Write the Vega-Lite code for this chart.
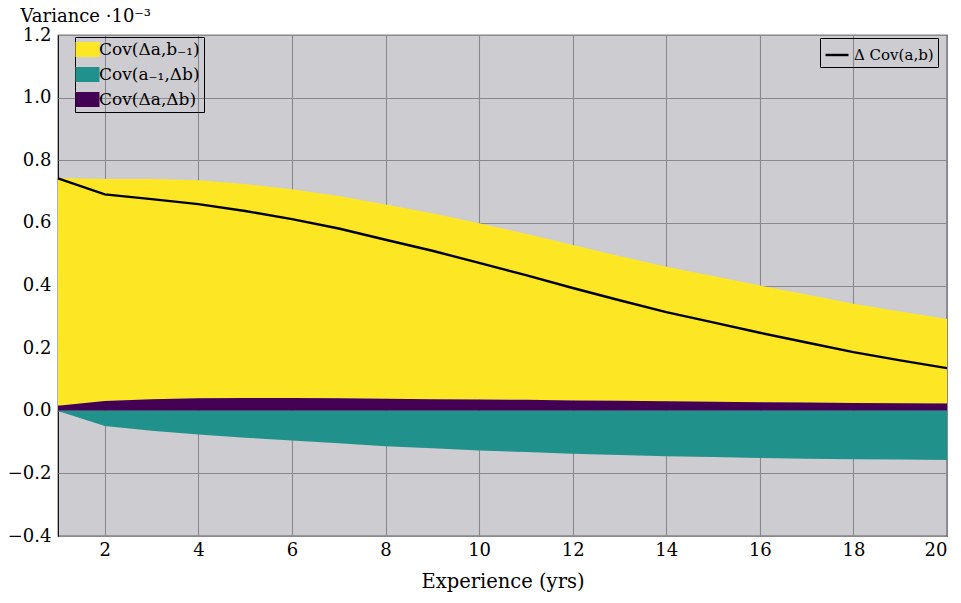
{
  "$schema": "https://vega.github.io/schema/vega-lite/v6.json",
  "autosize": {"type": "none"},
  "width": 889,
  "height": 501,
  "padding": {"left": 58, "top": 35, "right": 14, "bottom": 67},
  "background": "white",
  "config": {
    "font": "DejaVu Serif",
    "view": {"fill": "#cdccd1", "stroke": "black", "strokeWidth": 1.2},
    "axis": {
      "zindex": 1,
      "domain": false,
      "ticks": false,
      "grid": true,
      "gridColor": "#8a8a8e",
      "gridWidth": 1.1,
      "gridOpacity": 1,
      "labelFont": "DejaVu Serif",
      "labelFontSize": 18,
      "labelColor": "black",
      "titleFont": "DejaVu Serif",
      "titleFontSize": 19.5,
      "titleFontWeight": "normal",
      "titleColor": "black"
    },
    "legend": {
      "labelFont": "DejaVu Serif",
      "labelColor": "black",
      "strokeColor": "black",
      "strokeWidth": 1
    }
  },
  "datasets": {
    "components": [
      {"x": 1, "series": "Cov(Δa,b₋₁)", "k": 2, "v": 0.727},
      {"x": 2, "series": "Cov(Δa,b₋₁)", "k": 2, "v": 0.709},
      {"x": 3, "series": "Cov(Δa,b₋₁)", "k": 2, "v": 0.703},
      {"x": 4, "series": "Cov(Δa,b₋₁)", "k": 2, "v": 0.696},
      {"x": 5, "series": "Cov(Δa,b₋₁)", "k": 2, "v": 0.683},
      {"x": 6, "series": "Cov(Δa,b₋₁)", "k": 2, "v": 0.666},
      {"x": 7, "series": "Cov(Δa,b₋₁)", "k": 2, "v": 0.646},
      {"x": 8, "series": "Cov(Δa,b₋₁)", "k": 2, "v": 0.621},
      {"x": 9, "series": "Cov(Δa,b₋₁)", "k": 2, "v": 0.594},
      {"x": 10, "series": "Cov(Δa,b₋₁)", "k": 2, "v": 0.563},
      {"x": 11, "series": "Cov(Δa,b₋₁)", "k": 2, "v": 0.530},
      {"x": 12, "series": "Cov(Δa,b₋₁)", "k": 2, "v": 0.496},
      {"x": 13, "series": "Cov(Δa,b₋₁)", "k": 2, "v": 0.462},
      {"x": 14, "series": "Cov(Δa,b₋₁)", "k": 2, "v": 0.430},
      {"x": 15, "series": "Cov(Δa,b₋₁)", "k": 2, "v": 0.401},
      {"x": 16, "series": "Cov(Δa,b₋₁)", "k": 2, "v": 0.373},
      {"x": 17, "series": "Cov(Δa,b₋₁)", "k": 2, "v": 0.345},
      {"x": 18, "series": "Cov(Δa,b₋₁)", "k": 2, "v": 0.317},
      {"x": 19, "series": "Cov(Δa,b₋₁)", "k": 2, "v": 0.293},
      {"x": 20, "series": "Cov(Δa,b₋₁)", "k": 2, "v": 0.270},

      {"x": 1, "series": "Cov(Δa,Δb)", "k": 1, "v": 0.016},
      {"x": 2, "series": "Cov(Δa,Δb)", "k": 1, "v": 0.031},
      {"x": 3, "series": "Cov(Δa,Δb)", "k": 1, "v": 0.037},
      {"x": 4, "series": "Cov(Δa,Δb)", "k": 1, "v": 0.040},
      {"x": 5, "series": "Cov(Δa,Δb)", "k": 1, "v": 0.041},
      {"x": 6, "series": "Cov(Δa,Δb)", "k": 1, "v": 0.041},
      {"x": 7, "series": "Cov(Δa,Δb)", "k": 1, "v": 0.040},
      {"x": 8, "series": "Cov(Δa,Δb)", "k": 1, "v": 0.038},
      {"x": 9, "series": "Cov(Δa,Δb)", "k": 1, "v": 0.037},
      {"x": 10, "series": "Cov(Δa,Δb)", "k": 1, "v": 0.036},
      {"x": 11, "series": "Cov(Δa,Δb)", "k": 1, "v": 0.035},
      {"x": 12, "series": "Cov(Δa,Δb)", "k": 1, "v": 0.033},
      {"x": 13, "series": "Cov(Δa,Δb)", "k": 1, "v": 0.032},
      {"x": 14, "series": "Cov(Δa,Δb)", "k": 1, "v": 0.030},
      {"x": 15, "series": "Cov(Δa,Δb)", "k": 1, "v": 0.029},
      {"x": 16, "series": "Cov(Δa,Δb)", "k": 1, "v": 0.027},
      {"x": 17, "series": "Cov(Δa,Δb)", "k": 1, "v": 0.026},
      {"x": 18, "series": "Cov(Δa,Δb)", "k": 1, "v": 0.025},
      {"x": 19, "series": "Cov(Δa,Δb)", "k": 1, "v": 0.024},
      {"x": 20, "series": "Cov(Δa,Δb)", "k": 1, "v": 0.023},

      {"x": 1, "series": "Cov(a₋₁,Δb)", "k": 3, "v": -0.001},
      {"x": 2, "series": "Cov(a₋₁,Δb)", "k": 3, "v": -0.049},
      {"x": 3, "series": "Cov(a₋₁,Δb)", "k": 3, "v": -0.064},
      {"x": 4, "series": "Cov(a₋₁,Δb)", "k": 3, "v": -0.076},
      {"x": 5, "series": "Cov(a₋₁,Δb)", "k": 3, "v": -0.086},
      {"x": 6, "series": "Cov(a₋₁,Δb)", "k": 3, "v": -0.095},
      {"x": 7, "series": "Cov(a₋₁,Δb)", "k": 3, "v": -0.104},
      {"x": 8, "series": "Cov(a₋₁,Δb)", "k": 3, "v": -0.113},
      {"x": 9, "series": "Cov(a₋₁,Δb)", "k": 3, "v": -0.120},
      {"x": 10, "series": "Cov(a₋₁,Δb)", "k": 3, "v": -0.127},
      {"x": 11, "series": "Cov(a₋₁,Δb)", "k": 3, "v": -0.132},
      {"x": 12, "series": "Cov(a₋₁,Δb)", "k": 3, "v": -0.137},
      {"x": 13, "series": "Cov(a₋₁,Δb)", "k": 3, "v": -0.141},
      {"x": 14, "series": "Cov(a₋₁,Δb)", "k": 3, "v": -0.145},
      {"x": 15, "series": "Cov(a₋₁,Δb)", "k": 3, "v": -0.148},
      {"x": 16, "series": "Cov(a₋₁,Δb)", "k": 3, "v": -0.151},
      {"x": 17, "series": "Cov(a₋₁,Δb)", "k": 3, "v": -0.153},
      {"x": 18, "series": "Cov(a₋₁,Δb)", "k": 3, "v": -0.155},
      {"x": 19, "series": "Cov(a₋₁,Δb)", "k": 3, "v": -0.156},
      {"x": 20, "series": "Cov(a₋₁,Δb)", "k": 3, "v": -0.157}
    ],
    "total": [
      {"x": 1, "series": "Δ Cov(a,b)", "v": 0.742},
      {"x": 2, "series": "Δ Cov(a,b)", "v": 0.691},
      {"x": 3, "series": "Δ Cov(a,b)", "v": 0.676},
      {"x": 4, "series": "Δ Cov(a,b)", "v": 0.660},
      {"x": 5, "series": "Δ Cov(a,b)", "v": 0.638},
      {"x": 6, "series": "Δ Cov(a,b)", "v": 0.612},
      {"x": 7, "series": "Δ Cov(a,b)", "v": 0.582},
      {"x": 8, "series": "Δ Cov(a,b)", "v": 0.546},
      {"x": 9, "series": "Δ Cov(a,b)", "v": 0.511},
      {"x": 10, "series": "Δ Cov(a,b)", "v": 0.472},
      {"x": 11, "series": "Δ Cov(a,b)", "v": 0.433},
      {"x": 12, "series": "Δ Cov(a,b)", "v": 0.392},
      {"x": 13, "series": "Δ Cov(a,b)", "v": 0.353},
      {"x": 14, "series": "Δ Cov(a,b)", "v": 0.315},
      {"x": 15, "series": "Δ Cov(a,b)", "v": 0.282},
      {"x": 16, "series": "Δ Cov(a,b)", "v": 0.249},
      {"x": 17, "series": "Δ Cov(a,b)", "v": 0.218},
      {"x": 18, "series": "Δ Cov(a,b)", "v": 0.187},
      {"x": 19, "series": "Δ Cov(a,b)", "v": 0.161},
      {"x": 20, "series": "Δ Cov(a,b)", "v": 0.136}
    ]
  },
  "encoding": {
    "x": {
      "field": "x",
      "type": "quantitative",
      "scale": {"domain": [1, 20], "nice": false, "zero": false},
      "axis": {
        "title": "Experience (yrs)",
        "values": [2, 4, 6, 8, 10, 12, 14, 16, 18, 20],
        "labelPadding": 5,
        "titlePadding": 13
      }
    }
  },
  "layer": [
    {
      "data": {"name": "components"},
      "mark": {"type": "area", "interpolate": "linear", "opacity": 1},
      "encoding": {
        "y": {
          "field": "v",
          "type": "quantitative",
          "aggregate": "sum",
          "stack": "zero",
          "scale": {"domain": [-0.4, 1.2], "nice": false, "zero": false},
          "axis": {
            "title": "Variance ·10⁻³",
            "titleAngle": 0,
            "titleAlign": "left",
            "titleBaseline": "alphabetic",
            "titleX": -38,
            "titleY": -14,
            "titleFontSize": 18,
            "values": [-0.4, -0.2, 0, 0.2, 0.4, 0.6, 0.8, 1.0, 1.2],
            "format": ".1f",
            "labelPadding": 7
          }
        },
        "fill": {
          "field": "series",
          "type": "nominal",
          "scale": {
            "domain": ["Cov(Δa,b₋₁)", "Cov(a₋₁,Δb)", "Cov(Δa,Δb)"],
            "range": ["#fde725", "#21918c", "#440154"]
          },
          "legend": {
            "title": null,
            "orient": "none",
            "legendX": 17,
            "legendY": 2,
            "padding": 4,
            "rowPadding": 7,
            "symbolType": "M-1.6,-1H1.6V1H-1.6Z",
            "symbolSize": 225,
            "symbolStrokeWidth": 0,
            "symbolOpacity": 1,
            "labelFontSize": 17,
            "labelOffset": 3
          }
        },
        "order": {"field": "k", "type": "quantitative"}
      }
    },
    {
      "data": {"name": "total"},
      "mark": {"type": "line", "strokeWidth": 2.4, "interpolate": "linear"},
      "encoding": {
        "y": {"field": "v", "type": "quantitative"},
        "stroke": {
          "field": "series",
          "type": "nominal",
          "scale": {"range": ["black"]},
          "legend": {
            "title": null,
            "orient": "none",
            "legendX": 762,
            "legendY": 3,
            "padding": 4,
            "symbolType": "stroke",
            "symbolSize": 529,
            "symbolStrokeWidth": 2.4,
            "labelFontSize": 15,
            "labelOffset": 4
          }
        }
      }
    }
  ]
}
